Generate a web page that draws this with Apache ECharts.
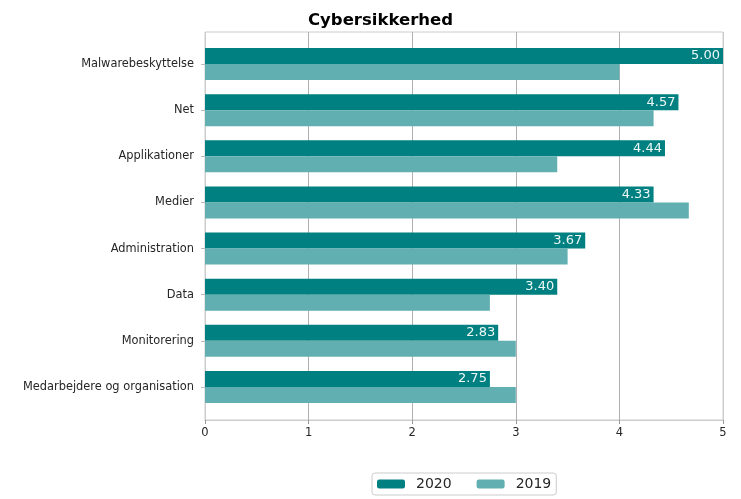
<!DOCTYPE html>
<html>
<head>
<meta charset="utf-8">
<script src="https://cdn.jsdelivr.net/npm/echarts@6/dist/echarts.min.js"></script>
<style>html,body{margin:0;padding:0;background:#fff}#c{width:741px;height:499px}</style>
</head>
<body>
<div id="c"></div>
<script>
const categories = ['Malwarebeskyttelse','Net','Applikationer','Medier','Administration','Data','Monitorering','Medarbejdere og organisation'];
const values2020 = [5.00, 4.57, 4.44, 4.33, 3.67, 3.40, 2.83, 2.75];
const values2019 = [4.00, 4.33, 3.40, 4.67, 3.50, 2.75, 3.00, 3.00];
const xTicks = [0, 1, 2, 3, 4, 5];

const FONT = 'DejaVu Sans';
const chart = echarts.init(document.getElementById('c'), null, {renderer: 'canvas'});
chart.setOption({
  animation: false,
  textStyle: {fontFamily: FONT},
  title: {
    text: 'Cybersikkerhed', left: 303, top: 7,
    textStyle: {fontFamily: FONT, fontSize: 16.5, fontWeight: 'bold', color: '#000'}
  },
  legend: {
    data: ['2020', '2019'],
    left: 372, top: 473,
    orient: 'horizontal',
    itemWidth: 28, itemHeight: 9, itemGap: 25,
    padding: [4, 5, 4, 5],
    borderColor: '#cccccc', borderWidth: 1, borderRadius: 3,
    textStyle: {fontFamily: FONT, fontSize: 14, color: '#262626', padding: [0, 0, 0, 6]}
  },
  grid: [
    {left: 205, right: 18, top: 41, bottom: 89, containLabel: false},
    {left: 205, right: 18, top: 32, bottom: 79, show: true, borderColor: '#cccccc', borderWidth: 1, containLabel: false}
  ],
  xAxis: [
    {type: 'value', gridIndex: 0, min: 0, max: 5, show: false},
    {type: 'value', gridIndex: 1, min: xTicks[0], max: xTicks[xTicks.length - 1], interval: 1,
     axisLine: {show: true, lineStyle: {color: '#cccccc'}},
     axisTick: {show: true, length: 4, lineStyle: {color: '#999999'}},
     axisLabel: {color: '#262626', fontSize: 11.5, margin: 7, fontFamily: FONT},
     splitLine: {show: true, lineStyle: {color: ['#cccccc', '#b0b0b0', '#b0b0b0', '#b0b0b0', '#b0b0b0', '#cccccc'], width: 1}}
    }
  ],
  yAxis: [
    {type: 'category', gridIndex: 0, data: categories, inverse: true,
     axisLine: {show: false},
     axisTick: {show: true, alignWithLabel: true, length: 4, inside: false, lineStyle: {color: '#bbbbbb'}},
     axisLabel: {color: '#262626', fontSize: 11.4, margin: 11, fontFamily: FONT},
     splitLine: {show: false}
    },
    {type: 'value', gridIndex: 1, show: false, min: 0, max: 1}
  ],
  series: [
    {name: '2020', type: 'bar', xAxisIndex: 0, yAxisIndex: 0, data: values2020,
     barWidth: 16, barGap: '0%',
     itemStyle: {color: '#008080'},
     label: {show: true, position: 'insideRight', distance: 3, color: '#eef7f7', fontSize: 13, fontFamily: FONT,
       formatter: p => p.value.toFixed(2)}
    },
    {name: '2019', type: 'bar', xAxisIndex: 0, yAxisIndex: 0, data: values2019,
     barWidth: 16, barGap: '0%',
     itemStyle: {color: '#61afb0'}
    }
  ]
});
</script>
</body>
</html>
